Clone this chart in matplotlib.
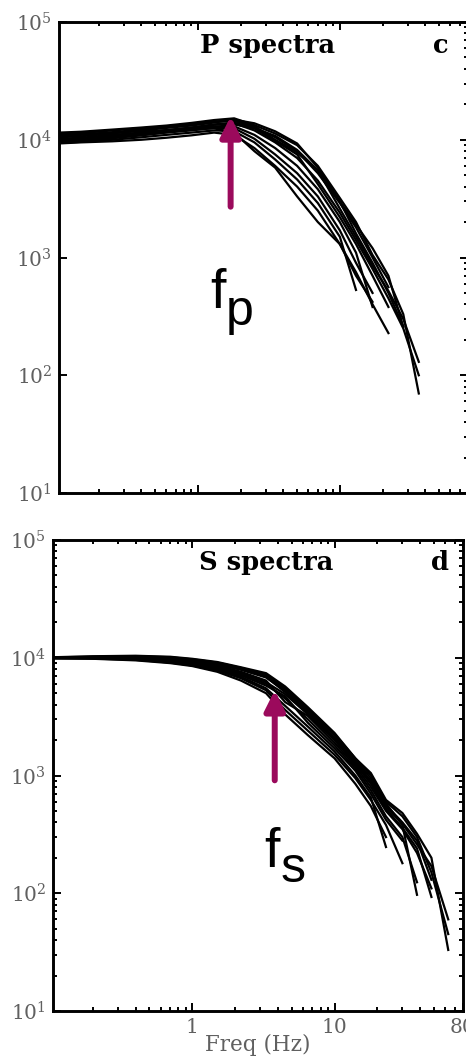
import matplotlib
matplotlib.use("Agg")
import matplotlib.pyplot as plt
import numpy as np

# ---------------- data ----------------
P_FREQ = [0.105, 0.15, 0.25, 0.4, 0.6, 0.9, 1.3, 1.8, 2.5, 3.5, 5, 7, 10, 13, 17, 22, 28, 36]
P_SPECTRA = [
    [11500, 11700, 12200, 12700, 13200, 13900, 14700, 15200, 13300, 11300, 9000, 6000, 3200, 2000, 1050, 650, 330, 70],
    [10800, 11000, 11600, 12200, 12800, 13500, 14200, 14500, 12800, 10500, 8000, 5200, 2900, 1800, 1000, 560],
    [10200, 10400, 11000, 11500, 12100, 12700, 13400, 13800, 12000, 9500, 7000, 4500, 2400, 1400, 800, 450, 250, 100],
    [9900, 10100, 10600, 11200, 11800, 12400, 13000, 13000, 11000, 8500, 6000, 3800, 2000, 1100, 380],
    [9600, 9800, 10300, 10900, 11500, 12000, 12600, 12500, 10200, 7500, 5200, 3300, 1700, 900, 500],
    [9400, 9600, 10000, 10500, 11000, 11500, 12000, 11800, 9500, 6800, 4600, 2900, 1500, 530],
    [11000, 11200, 11500, 11800, 12000, 12300, 12800, 13500, 12500, 10800, 8200, 5500, 3000, 1900, 1200, 700, 257],
    [9300, 9500, 9700, 10000, 10400, 10900, 11500, 11000, 8500, 6000, 4000, 2500, 1300, 750, 400, 228],
    [10500, 10700, 11300, 12000, 12600, 13200, 14000, 14800, 13800, 11800, 9300, 5800, 3000, 1600, 900, 500, 260],
    [9700, 9900, 10400, 11000, 11600, 12200, 12500, 11500, 8000, 5800, 3300, 2000, 1300, 700, 420],
    [10000, 10200, 10800, 11400, 12000, 12700, 13500, 14000, 12500, 9800, 7500, 4200, 2200, 1300, 700, 380],
    [11200, 11400, 12000, 12500, 13000, 13600, 14300, 14600, 13000, 10000, 7800, 5500, 2600, 1500, 850, 520, 300, 130],
]

S_FREQ = [0.105, 0.2, 0.4, 0.7, 1.0, 1.5, 2.2, 3.3, 4.5, 6.5, 10, 14, 18, 23, 30, 38, 48, 63]
S_SPECTRA = [
    [10100, 10300, 10400, 10200, 9800, 9200, 8300, 7400, 5700, 3800, 2300, 1400, 1050, 620, 480, 320, 200, 33],
    [10000, 10100, 10100, 9900, 9500, 8800, 7900, 6800, 5200, 3500, 2100, 1300, 900, 560, 400, 280, 130],
    [9950, 10000, 9900, 9600, 9100, 8300, 7300, 6000, 4500, 3000, 1800, 1150, 750, 450, 300, 124],
    [9900, 9900, 9700, 9300, 8800, 8000, 6900, 5500, 3900, 2600, 1600, 1000, 650, 247],
    [10050, 10150, 10200, 10000, 9600, 9000, 8100, 7000, 5400, 3600, 2200, 1350, 950, 580, 380, 97],
    [9900, 9800, 9500, 9000, 8500, 7600, 6400, 5000, 3300, 2200, 1400, 850, 550, 300],
    [10000, 10050, 10000, 9800, 9300, 8600, 7600, 6400, 4200, 3200, 1900, 1200, 800, 500, 350, 220, 110],
    [9950, 9950, 9800, 9450, 8950, 8200, 7100, 5800, 4700, 2800, 1700, 1100, 700, 420, 280],
    [10080, 10200, 10300, 10100, 9700, 9100, 8200, 7200, 5500, 3700, 2250, 1400, 1000, 600, 450, 300, 150, 45],
    [9920, 9850, 9600, 9100, 8600, 7800, 6700, 5300, 3600, 2400, 1500, 950, 620, 380, 180],
    [10000, 10000, 9950, 9700, 9200, 8500, 7500, 6200, 4900, 3300, 2000, 1250, 850, 520, 360, 240, 93],
    [10020, 10100, 10150, 9950, 9550, 8900, 8000, 6900, 5100, 3400, 2050, 1300, 880, 540, 390, 260, 170, 60],
]

P_CORNER = 1.7          # f_p
P_ARROW_Y = (2700, 15800)
S_CORNER = 3.8          # f_s
S_ARROW_Y = (910, 5300)

Y_TICKS = [1e1, 1e2, 1e3, 1e4, 1e5]
Y_LABELS = [r"$10^{1}$", r"$10^{2}$", r"$10^{3}$", r"$10^{4}$", r"$10^{5}$"]
X_TICKS = [1, 10, 80]
X_LABELS = ["1", "10", "80"]

# ---------------- style ----------------
plt.rcParams["font.family"] = ["DejaVu Serif"]
plt.rcParams["mathtext.fontset"] = "dejavuserif"

W, H = 466, 1062
fig = plt.figure(figsize=(W / 100, H / 100), dpi=100)

def px_axes(l, t, r, b):
    return fig.add_axes([l / W, 1 - b / H, (r - l) / W, (b - t) / H])

ax_p = px_axes(59, 22, 468, 493)
ax_s = px_axes(53, 540, 463, 1011)

ARROW_COLOR = "#9b0a5c"
LABEL_GREY = "#606060"

def style_axes(ax, show_xlabels, left_minor):
    ax.set_xscale("log")
    ax.set_yscale("log")
    ax.set_xlim(0.105, 80)
    ax.set_ylim(10, 1e5)
    for s in ax.spines.values():
        s.set_linewidth(2.1)
    ax.tick_params(which="both", direction="in", top=True, right=True,
                   colors="black", labelcolor=LABEL_GREY)
    ax.tick_params(which="major", length=5.5, width=1.4, labelsize=14.5, pad=5)
    ax.tick_params(which="minor", length=3.2, width=1.4)
    if not left_minor:
        ax.tick_params(which="minor", left=False)
    ax.set_yticks(Y_TICKS)
    ax.set_yticklabels(Y_LABELS)
    ax.yaxis.set_minor_locator(matplotlib.ticker.LogLocator(base=10, subs=np.arange(2, 10)))
    ax.yaxis.set_minor_formatter(matplotlib.ticker.NullFormatter())
    ax.set_xticks(X_TICKS)
    ax.xaxis.set_minor_locator(matplotlib.ticker.LogLocator(base=10, subs=np.arange(2, 10)))
    ax.xaxis.set_minor_formatter(matplotlib.ticker.NullFormatter())
    if show_xlabels:
        ax.set_xticklabels(X_LABELS)
    else:
        ax.set_xticklabels([])

def draw_spectra(ax, freq, spectra):
    for amp in spectra:
        ax.plot(freq[:len(amp)], amp, color="black", lw=1.6, solid_joinstyle="round")

# ---- P panel ----
style_axes(ax_p, False, False)
draw_spectra(ax_p, P_FREQ, P_SPECTRA)
ax_p.text(0.511, 0.951, "P spectra", transform=ax_p.transAxes, ha="center", va="center",
          fontsize=18.5, fontweight="bold")
ax_p.text(0.934, 0.951, "c", transform=ax_p.transAxes, ha="center", va="center",
          fontsize=18.5, fontweight="bold")
ax_p.annotate("", xy=(P_CORNER, P_ARROW_Y[1]), xytext=(P_CORNER, P_ARROW_Y[0]),
              arrowprops=dict(arrowstyle="-|>,head_length=0.6,head_width=0.3",
                              color=ARROW_COLOR, lw=4.3, mutation_scale=20,
                              shrinkA=0, shrinkB=0), zorder=10)

# ---- S panel ----
style_axes(ax_s, True, True)
draw_spectra(ax_s, S_FREQ, S_SPECTRA)
ax_s.text(0.52, 0.953, "S spectra", transform=ax_s.transAxes, ha="center", va="center",
          fontsize=18.5, fontweight="bold")
ax_s.text(0.944, 0.953, "d", transform=ax_s.transAxes, ha="center", va="center",
          fontsize=18.5, fontweight="bold")
ax_s.annotate("", xy=(S_CORNER, S_ARROW_Y[1]), xytext=(S_CORNER, S_ARROW_Y[0]),
              arrowprops=dict(arrowstyle="-|>,head_length=0.6,head_width=0.3",
                              color=ARROW_COLOR, lw=4.3, mutation_scale=20,
                              shrinkA=0, shrinkB=0), zorder=10)
ax_s.set_xlabel("Freq (Hz)", fontsize=15.5, color=LABEL_GREY, labelpad=-2)

# ---- f_p, f_s labels ----
SANS = ["Liberation Sans", "DejaVu Sans"]
fig.text(210 / W, 1 - 308 / H, "f", family=SANS, fontsize=40, ha="left", va="baseline")
fig.text(226 / W, 1 - 325 / H, "p", family=SANS, fontsize=36, ha="left", va="baseline")
fig.text(264 / W, 1 - 867 / H, "f", family=SANS, fontsize=40, ha="left", va="baseline")
fig.text(281 / W, 1 - 882 / H, "s", family=SANS, fontsize=36, ha="left", va="baseline")

fig.savefig("out.png", dpi=100)
